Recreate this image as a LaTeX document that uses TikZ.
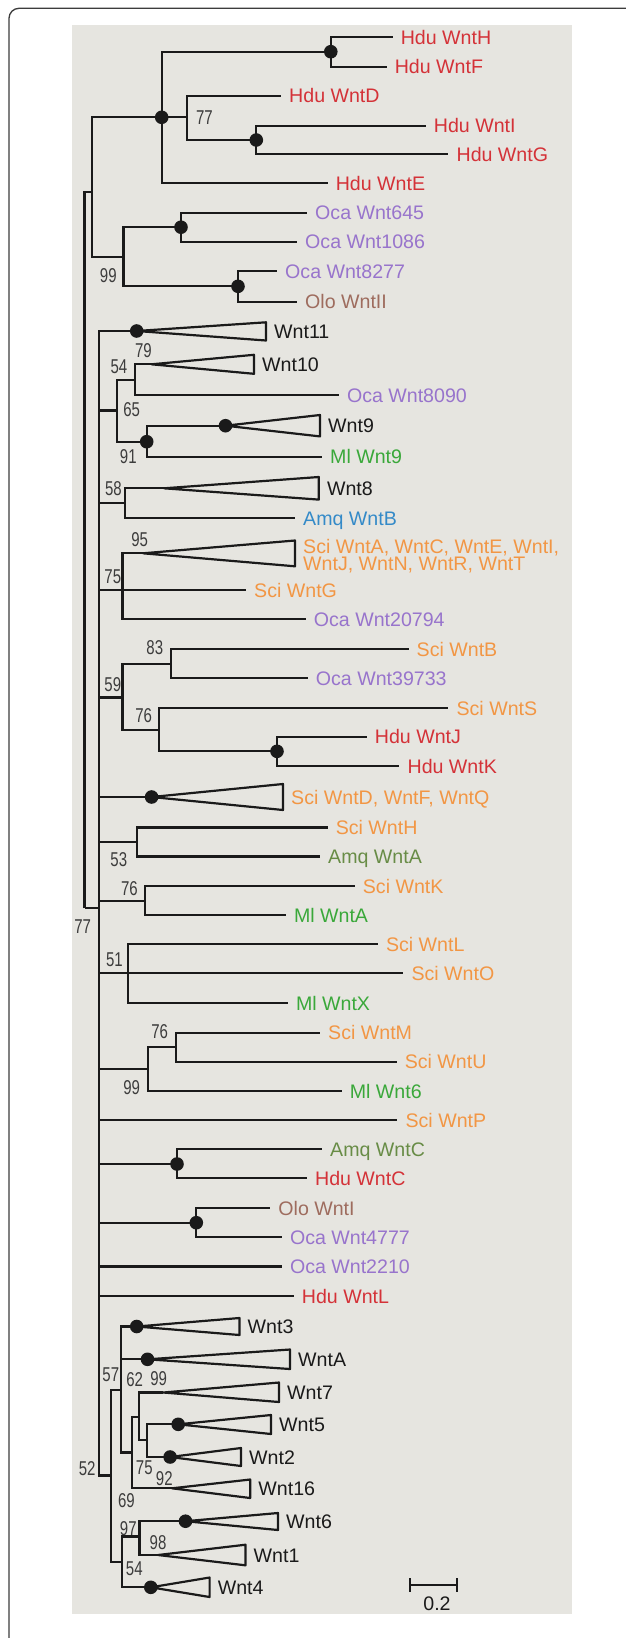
\documentclass[tikz,border=0pt]{standalone}
\usepackage{fontspec}
\setmainfont{Liberation Sans}
\newfontfamily\bsfont[FakeStretch=0.75]{Liberation Sans}
\definecolor{hdu}{RGB}{212,50,56}
\definecolor{oca}{RGB}{152,116,204}
\definecolor{olo}{RGB}{158,108,94}
\definecolor{mlg}{RGB}{58,168,58}
\definecolor{amqb}{RGB}{52,138,200}
\definecolor{amqo}{RGB}{104,140,70}
\definecolor{sci}{RGB}{242,150,68}
\definecolor{treec}{RGB}{26,26,26}
\definecolor{bsc}{RGB}{60,60,60}
\definecolor{bgc}{RGB}{230,229,224}
\definecolor{framec}{RGB}{60,60,60}
\newcommand\tri[4]{\draw[tree,line join=round] (#1) -- (#2,#3) -- (#2,#4) -- cycle;}
\begin{document}
\begin{tikzpicture}[x=1pt,y=-1pt,
  tree/.style={line width=2.2pt,draw=treec},
  lab/.style={anchor=west,inner xsep=8pt,inner ysep=0pt,text height=14pt,text depth=0pt,
    font=\fontsize{19.6}{16.7}\selectfont,text=treec},
  bs/.style={inner sep=0pt,text=bsc,font=\bsfont\fontsize{20}{20}\selectfont},
  dotc/.style={fill=treec}]
\fill[white] (0,0) rectangle (625,1638);
\useasboundingbox (0,0) rectangle (625,1638);
\fill[bgc] (71.7,25) rectangle (571.7,1613.7);
\draw[framec,line width=1.3pt,rounded corners=10pt] (9,1645) -- (9,8.3) -- (640,8.3);

% ---------- root ----------
\coordinate (R0) at (84.5,908.3);
\coordinate (A) at (92.2,191.7);
\coordinate (B) at (98.8,908.3);
\draw[tree] (R0) |- (A);
\draw[tree] (R0) -- (B);
\node[bs] (b77r) at (82.7,927) {77};

% ---------- top group ----------
\coordinate (H1) at (161.7,117.3);
\coordinate (N99) at (123.5,256.8);
\draw[tree] (A) |- (H1);
\draw[tree] (A) |- (N99);
\coordinate (HF) at (330.8,51.7);
\coordinate (N77) at (187.3,117.3);
\node[lab,text=hdu] (tHE) at (327.6,183.3) {Hdu WntE};
\draw[tree] (H1) |- (HF);
\draw[tree] (H1) -- (N77);
\draw[tree] (H1) |- (tHE.west);
\node[lab,text=hdu] (tHH) at (392.6,37.3) {Hdu WntH};
\node[lab,text=hdu] (tHF) at (386.6,66.7) {Hdu WntF};
\draw[tree] (HF) |- (tHH.west);
\draw[tree] (HF) |- (tHF.west);
\node[lab,text=hdu] (tHD) at (281,95.7) {Hdu WntD};
\coordinate (IG) at (256.3,140);
\draw[tree] (N77) |- (tHD.west);
\draw[tree] (N77) |- (IG);
\node[lab,text=hdu] (tHI) at (425.7,125.7) {Hdu WntI};
\node[lab,text=hdu] (tHG) at (448.4,154.3) {Hdu WntG};
\draw[tree] (IG) |- (tHI.west);
\draw[tree] (IG) |- (tHG.west);
\node[bs] (b77) at (204.5,117.3) {77};

\coordinate (O1) at (181,227.2);
\coordinate (O2) at (238,286.3);
\draw[tree] (N99) |- (O1);
\draw[tree] (N99) |- (O2);
\node[lab,text=oca] (tO645) at (307,212.7) {Oca Wnt645};
\node[lab,text=oca] (tO1086) at (297,241.7) {Oca Wnt1086};
\draw[tree] (O1) |- (tO645.west);
\draw[tree] (O1) |- (tO1086.west);
\node[lab,text=oca] (tO8277) at (277,271) {Oca Wnt8277};
\node[lab,text=olo] (tOloII) at (297,301.7) {Olo WntII};
\draw[tree] (O2) |- (tO8277.west);
\draw[tree] (O2) |- (tOloII.west);
\node[bs] (b99a) at (108.3,276) {99};

% ---------- lower group ----------
% Wnt11
\coordinate (c11) at (136.7,331);
\draw[tree] (B) |- (c11);
\tri{c11}{266}{322.3}{340.5}
\node[lab] (tW11) at (266,331) {Wnt11};
\node[bs] (b79) at (143.4,350.3) {79};
% 65
\coordinate (N65) at (117,410.5);
\draw[tree] (B) |- (N65);
\node[bs] (b65) at (131.6,409.3) {65};
\coordinate (N54) at (134.8,380);
\draw[tree] (N65) |- (N54);
\node[bs] (b54) at (118.9,366.7) {54};
\coordinate (a10) at (151.5,364.3);
\draw[tree] (N54) |- (a10);
\tri{a10}{254}{354.8}{373.8}
\node[lab] (tW10) at (254,364.3) {Wnt10};
\node[lab,text=oca] (tO8090) at (338.8,395) {Oca Wnt8090};
\draw[tree] (N54) |- (tO8090.west);
\coordinate (N91) at (146.7,441.7);
\draw[tree] (N65) |- (N91);
\node[bs] (b91) at (128.3,456.3) {91};
\coordinate (c9) at (225.5,425.7);
\draw[tree] (N91) |- (c9);
\tri{c9}{320}{415}{436.4}
\node[lab] (tW9) at (320,425.7) {Wnt9};
\node[lab,text=mlg] (tMl9) at (322,456.7) {Ml Wnt9};
\draw[tree] (N91) |- (tMl9.west);
% 58
\coordinate (N58) at (125,503.3);
\draw[tree] (B) |- (N58);
\node[bs] (b58) at (113.5,488.3) {58};
\coordinate (a8) at (164,488.3);
\draw[tree] (N58) |- (a8);
\tri{a8}{318.8}{477}{499.6}
\node[lab] (tW8) at (318.8,488.3) {Wnt8};
\node[lab,text=amqb] (tAB) at (295,518.3) {Amq WntB};
\draw[tree] (N58) |- (tAB.west);
% 75
\coordinate (N75) at (122.5,590);
\draw[tree] (B) |- (N75);
\node[bs] (b75) at (112.8,576.7) {75};
\node[bs] (b95) at (139.7,539.3) {95};
\coordinate (aS) at (143,553.3);
\draw[tree] (N75) |- (aS);
\tri{aS}{295}{540.5}{566.3}
\node[lab,text=sci] (tSA1) at (295,546.7) {Sci WntA, WntC, WntE, WntI,};
\node[lab,text=sci] (tSA2) at (295,563.3) {WntJ, WntN, WntR, WntT};
\node[lab,text=sci] (tSG) at (246,590) {Sci WntG};
\draw[tree] (N75) -- (tSG.west);
\node[lab,text=oca] (tO20794) at (305.7,619) {Oca Wnt20794};
\draw[tree] (N75) |- (tO20794.west);
% 59
\coordinate (N59) at (122.5,697.5);
\draw[tree] (B) |- (N59);
\node[bs] (b59) at (112.8,684.5) {59};
\coordinate (N83) at (171.2,664);
\draw[tree] (N59) |- (N83);
\node[bs] (b83) at (154.8,648) {83};
\node[lab,text=sci] (tSB) at (408.5,649) {Sci WntB};
\node[lab,text=oca] (tO39733) at (307.7,678.3) {Oca Wnt39733};
\draw[tree] (N83) |- (tSB.west);
\draw[tree] (N83) |- (tO39733.west);
\coordinate (N76a) at (159.2,730);
\draw[tree] (N59) |- (N76a);
\node[bs] (b76a) at (143.7,715.5) {76};
\node[lab,text=sci] (tSS) at (448.4,708.3) {Sci WntS};
\draw[tree] (N76a) |- (tSS.west);
\coordinate (JK) at (277,751.3);
\draw[tree] (N76a) |- (JK);
\node[lab,text=hdu] (tHJ) at (366.7,736.7) {Hdu WntJ};
\node[lab,text=hdu] (tHK) at (399.4,766) {Hdu WntK};
\draw[tree] (JK) |- (tHJ.west);
\draw[tree] (JK) |- (tHK.west);
% Sci WntD
\coordinate (cD) at (151.6,797);
\draw[tree] (B) |- (cD);
\tri{cD}{283}{784}{810}
\node[lab,text=sci] (tSD) at (283,797) {Sci WntD, WntF, WntQ};
% 53
\coordinate (N53) at (136.7,842.3);
\draw[tree] (B) |- (N53);
\node[bs] (b53) at (118.8,859.3) {53};
\node[lab,text=sci] (tSH) at (327.6,827.5) {Sci WntH};
\node[lab,text=amqo] (tAA) at (320,856.5) {Amq WntA};
\draw[tree] (N53) |- (tSH.west);
\draw[tree] (N53) |- (tAA.west);
% 76b
\coordinate (N76b) at (144.7,901);
\draw[tree] (B) |- (N76b);
\node[bs] (b76b) at (129.5,888.3) {76};
\node[lab,text=sci] (tSK) at (354.7,886) {Sci WntK};
\node[lab,text=mlg] (tMlA) at (285.8,915) {Ml WntA};
\draw[tree] (N76b) |- (tSK.west);
\draw[tree] (N76b) |- (tMlA.west);
% 51
\coordinate (N51) at (128.3,973.3);
\draw[tree] (B) |- (N51);
\node[bs] (b51) at (114.4,960) {51};
\node[lab,text=sci] (tSL) at (377.8,944) {Sci WntL};
\node[lab,text=sci] (tSO) at (403.3,973.3) {Sci WntO};
\node[lab,text=mlg] (tMlX) at (287.8,1003.3) {Ml WntX};
\draw[tree] (N51) |- (tSL.west);
\draw[tree] (N51) -- (tSO.west);
\draw[tree] (N51) |- (tMlX.west);
% 99b
\coordinate (N99b) at (147.6,1069.2);
\draw[tree] (B) |- (N99b);
\node[bs] (b99b) at (131.6,1087.7) {99};
\coordinate (N76c) at (175.6,1047.3);
\draw[tree] (N99b) |- (N76c);
\node[bs] (b76c) at (159.7,1031.2) {76};
\node[lab,text=sci] (tSM) at (320,1032.7) {Sci WntM};
\node[lab,text=sci] (tSU) at (396.6,1061.7) {Sci WntU};
\draw[tree] (N76c) |- (tSM.west);
\draw[tree] (N76c) |- (tSU.west);
\node[lab,text=mlg] (tMl6) at (341.6,1091) {Ml Wnt6};
\draw[tree] (N99b) |- (tMl6.west);
% Sci WntP
\node[lab,text=sci] (tSP) at (397.4,1120) {Sci WntP};
\draw[tree] (B) |- (tSP.west);
% C
\coordinate (cC) at (177,1164);
\draw[tree] (B) |- (cC);
\node[lab,text=amqo] (tAC) at (322,1149) {Amq WntC};
\node[lab,text=hdu] (tHC) at (306.9,1178.3) {Hdu WntC};
\draw[tree] (cC) |- (tAC.west);
\draw[tree] (cC) |- (tHC.west);
% Olo WntI
\coordinate (cOI) at (196.3,1222.7);
\draw[tree] (B) |- (cOI);
\node[lab,text=olo] (tOloI) at (270.2,1208.3) {Olo WntI};
\node[lab,text=oca] (tO4777) at (281.8,1237.3) {Oca Wnt4777};
\draw[tree] (cOI) |- (tOloI.west);
\draw[tree] (cOI) |- (tO4777.west);
\node[lab,text=oca] (tO2210) at (281.8,1266.5) {Oca Wnt2210};
\draw[tree] (B) |- (tO2210.west);
\node[lab,text=hdu] (tHL) at (293.7,1296) {Hdu WntL};
\draw[tree] (B) |- (tHL.west);
% 52
\coordinate (N52) at (110.9,1475.5);
\draw[tree] (B) |- (N52);
\node[bs] (b52) at (87.2,1469) {52};
\coordinate (N57) at (121,1390);
\draw[tree] (N52) |- (N57);
\node[bs] (b57) at (110.8,1375) {57};
\coordinate (c3) at (136.7,1326.5);
\draw[tree] (N57) |- (c3);
\tri{c3}{239.5}{1318}{1335}
\node[lab] (tW3) at (239.5,1326.5) {Wnt3};
\coordinate (cA) at (147.5,1359.3);
\draw[tree] (N57) |- (cA);
\tri{cA}{290}{1349.5}{1369}
\node[lab] (tWA) at (290,1359.3) {WntA};
\coordinate (N69) at (131.6,1452.5);
\draw[tree] (N57) |- (N69);
\node[bs] (b69) at (126.5,1500.5) {69};
\coordinate (N62) at (138.9,1416.7);
\draw[tree] (N69) |- (N62);
\node[bs] (b62) at (134.7,1380) {62};
\node[bs] (b99c) at (158.6,1379) {99};
\coordinate (a7) at (163.4,1392.5);
\draw[tree] (N62) |- (a7);
\tri{a7}{279}{1382.5}{1402}
\node[lab] (tW7) at (279,1392.5) {Wnt7};
\coordinate (N75b) at (147,1440);
\draw[tree] (N62) |- (N75b);
\node[bs] (b75b) at (144.3,1467.3) {75};
\node[bs] (b92) at (164.3,1478.5) {92};
\coordinate (c5) at (178.2,1424.3);
\draw[tree] (N75b) |- (c5);
\tri{c5}{271}{1415}{1434}
\node[lab] (tW5) at (271,1424.3) {Wnt5};
\coordinate (c2) at (170.1,1457);
\draw[tree] (N75b) |- (c2);
\tri{c2}{241}{1448}{1466}
\node[lab] (tW2) at (241,1457) {Wnt2};
\coordinate (a16) at (172,1488.3);
\draw[tree] (N69) |- (a16);
\tri{a16}{250.2}{1479.5}{1498}
\node[lab] (tW16) at (250.2,1488.3) {Wnt16};
\coordinate (N54b) at (121.6,1562);
\draw[tree] (N52) |- (N54b);
\node[bs] (b97) at (128.3,1528.2) {97};
\node[bs] (b54b) at (134.3,1569) {54};
\coordinate (N98) at (139.4,1536.5);
\draw[tree] (N54b) |- (N98);
\node[bs] (b98) at (158,1542.6) {98};
\coordinate (c6) at (185.5,1521.2);
\draw[tree] (N98) |- (c6);
\tri{c6}{278}{1513}{1530}
\node[lab] (tW6) at (278,1521.2) {Wnt6};
\coordinate (a1) at (158,1555);
\draw[tree] (N98) |- (a1);
\tri{a1}{245.5}{1544.7}{1565.3}
\node[lab] (tW1) at (245.5,1555) {Wnt1};
\coordinate (c4) at (150.8,1587.3);
\draw[tree] (N54b) |- (c4);
\tri{c4}{209.6}{1577.5}{1597}
\node[lab] (tW4) at (209.6,1587.3) {Wnt4};

% ---------- dots ----------
\foreach \d in {H1,HF,IG,O1,O2,c11,N91,c9,JK,cD,cC,cOI,c3,cA,c5,c2,c6,c4}
  \fill[dotc] (\d) circle (6.8pt);

% ---------- scale bar ----------
\coordinate (sbL) at (410,1584.7);
\coordinate (sbR) at (456.7,1584.7);
\draw[tree] (sbL) -- (sbR);
\draw[tree] ([yshift=-7pt]sbL) -- ([yshift=7pt]sbL);
\draw[tree] ([yshift=-7pt]sbR) -- ([yshift=7pt]sbR);
\node[inner sep=0pt,text=treec,font=\fontsize{19.6}{20}\selectfont] (sbT) at (437,1603.7) {0.2};
\end{tikzpicture}
\end{document}
